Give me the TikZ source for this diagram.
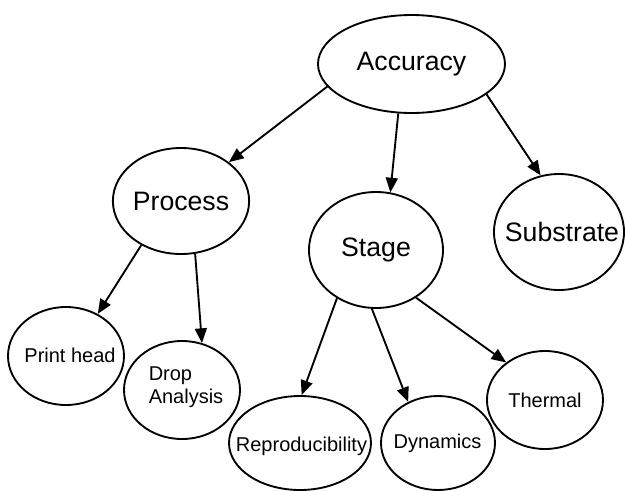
\documentclass[tikz,border=0pt]{standalone}
\usepackage{fontspec}
\setmainfont{Liberation Sans}
\usetikzlibrary{shapes.geometric,arrows.meta}
\begin{document}
\begin{tikzpicture}[x=0.75pt,y=-0.75pt,
  bubble/.style={draw=black,line width=1.4pt,ellipse,inner sep=0pt,fill=white},
  big/.style={font=\fontsize{20pt}{24pt}\selectfont},
  small/.style={font=\fontsize{15pt}{17.25pt}\selectfont},
  link/.style={line width=1.4pt,-{Triangle[length=11pt,width=9pt]}}]
\useasboundingbox (0,0) rectangle (625,490);
\node[bubble,big,minimum width=187pt*0.75,minimum height=98pt*0.75] (acc) at (411.5,64) {Accuracy};
\node[bubble,big,minimum width=134pt*0.75,minimum height=106pt*0.75] (proc) at (181,201) {Process};
\node[bubble,big,minimum width=134pt*0.75,minimum height=116pt*0.75] (stage) at (376,250) {Stage};
\node[bubble,big,minimum width=130pt*0.75,minimum height=116pt*0.75] (sub) at (559,232) {};
\node[big] (subt) at (562,232) {Substrate};
\node[bubble,small,minimum width=116pt*0.75,minimum height=98pt*0.75] (ph) at (66,356) {};
\node[small] (pht) at (70,355) {Print head};
\node[bubble,small,minimum width=116pt*0.75,minimum height=98pt*0.75] (drop) at (182,390) {};
\node[small,align=left] (dropt) at (186,387) {Drop\\Analysis};
\node[bubble,small,minimum width=142pt*0.75,minimum height=94pt*0.75] (rep) at (300,443) {};
\node[small] (rept) at (301.5,446) {Reproducibility};
\node[bubble,small,minimum width=114pt*0.75,minimum height=94pt*0.75] (dyn) at (438,443) {};
\node[small] (dynt) at (437.5,443) {Dynamics};
\node[bubble,small,minimum width=116pt*0.75,minimum height=98pt*0.75] (th) at (545,400) {Thermal};
\draw[link] (acc.195) -- (proc.39);
\draw[link] (acc.255) -- (stage.76);
\draw[link] (acc.338) -- (sub.108);
\draw[link] (proc.228) -- (ph.53);
\draw[link] (proc.285) -- (drop.67);
\draw[link] (stage.231) -- (rep.88);
\draw[link] (stage.266) -- (dyn.126);
\draw[link] (stage.310) -- (th.136);
\end{tikzpicture}
\end{document}
